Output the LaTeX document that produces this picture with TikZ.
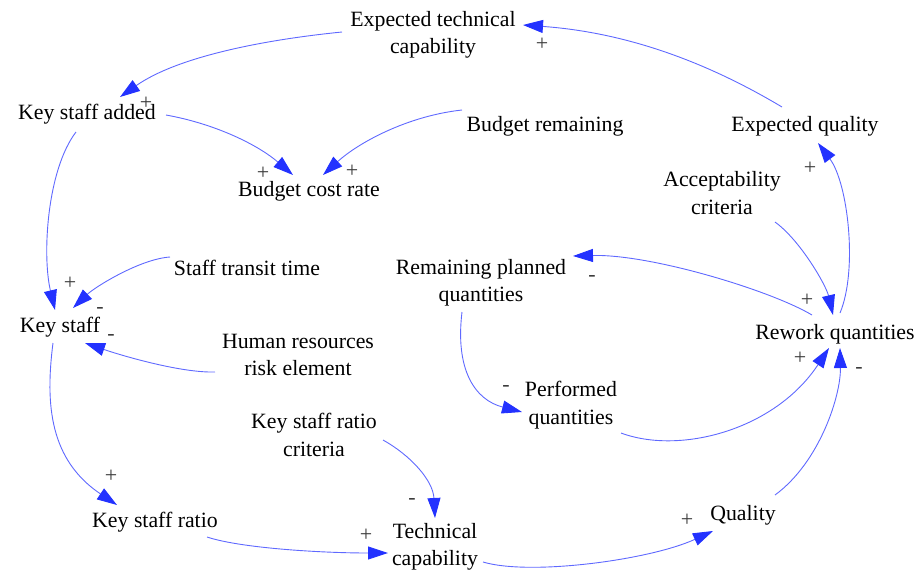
\documentclass[tikz,border=0pt]{standalone}
\usepackage{fontspec}
\setmainfont{Liberation Serif}
\usetikzlibrary{arrows.meta,calc}
\definecolor{linkblue}{RGB}{95,105,255}
\definecolor{tipblue}{RGB}{35,50,255}
\definecolor{signgray}{RGB}{60,60,60}
\begin{document}
\begin{tikzpicture}[x=1pt,y=-1pt,
  var/.style={inner sep=0pt, align=center, font=\fontsize{21.8}{27.5}\selectfont},
  sgn/.style={inner sep=0pt, text=signgray, font=\fontsize{22}{22}\selectfont},
  link/.style={draw=linkblue, line width=0.9pt, -{Triangle[length=20pt,width=13pt,color=tipblue]}}]
\useasboundingbox (0,0) rectangle (919,574);
% variables
\node[var] (etc) at (433,35) {Expected technical\\capability};
\node[var] (ksa) at (87,114) {Key staff added};
\node[var] (bcr) at (309,191) {Budget cost rate};
\node[var] (br) at (545,126) {Budget remaining};
\node[var] (eq) at (805,126) {Expected quality};
\node[var] (ac) at (722,193) {Acceptability\\criteria};
\node[var] (stt) at (247,268) {Staff transit time};
\node[var] (rpq) at (481,283) {Remaining planned\\quantities};
\node[var] (ks) at (60,327) {Key staff};
\node[var] (hr) at (298,355) {Human resources\\risk element};
\node[var] (rq) at (835,334) {Rework quantities};
\node[var] (pq) at (571,405) {Performed\\quantities};
\node[var] (ksrc) at (314,435) {Key staff ratio\\criteria};
\node[var] (ksr) at (155,522) {Key staff ratio};
\node[var] (tc) at (435,547) {Technical\\capability};
\node[var] (q) at (743,515) {Quality};
% links
\draw[link] ($(eq)+(-23,-19)$) .. controls ($(eq)+(-105,-68)$) and ($(etc)+(187,-3)$) .. ($(etc)+(90,-10)$);
\draw[link] ($(etc)+(-91,-3)$) .. controls ($(etc)+(-171,5)$) and ($(ksa)+(90,-57)$) .. ($(ksa)+(33,-17)$);
\draw[link] ($(ksa)+(79,1)$) .. controls ($(ksa)+(129,10)$) and ($(bcr)+(-51,-46)$) .. ($(bcr)+(-16,-16)$);
\draw[link] ($(br)+(-83,-16)$) .. controls ($(br)+(-138,-10)$) and ($(bcr)+(49,-48)$) .. ($(bcr)+(14,-16)$);
\draw[link] ($(ksa)+(-11,18)$) .. controls ($(ksa)+(-40,56)$) and ($(ks)+(-18,-72)$) .. ($(ks)+(-5,-17)$);
\draw[link] ($(stt)+(-77,-11)$) .. controls ($(stt)+(-107,-9)$) and ($(ks)+(35,-40)$) .. ($(ks)+(13,-19)$);
\draw[link] ($(hr)+(-83,17)$) .. controls ($(hr)+(-118,18)$) and ($(ks)+(60,28)$) .. ($(ks)+(25,16)$);
\draw[link] ($(ks)+(-7,16)$) .. controls ($(ks)+(-15,78)$) and ($(ksr)+(-105,-62)$) .. ($(ksr)+(-38,-17)$);
\draw[link] ($(ksr)+(52,15)$) .. controls ($(ksr)+(85,26)$) and ($(tc)+(-115,6)$) .. ($(tc)+(-47,6)$);
\draw[link] ($(ksrc)+(69,5)$) .. controls ($(ksrc)+(96,20)$) and ($(tc)+(-2,-67)$) .. ($(tc)+(0,-29)$);
\draw[link] ($(tc)+(48,15)$) .. controls ($(tc)+(95,29)$) and ($(q)+(-93,45)$) .. ($(q)+(-30,16)$);
\draw[link] ($(q)+(32,-20)$) .. controls ($(q)+(77,-53)$) and ($(rq)+(6,61)$) .. ($(rq)+(5,14)$);
\draw[link] ($(pq)+(50,28)$) .. controls ($(pq)+(109,50)$) and ($(rq)+(-60,96)$) .. ($(rq)+(-6,14)$);
\draw[link] ($(rpq)+(-19,29)$) .. controls ($(rpq)+(-26,87)$) and ($(pq)+(-96,-5)$) .. ($(pq)+(-49,7)$);
\draw[link] ($(rq)+(-23,-19)$) .. controls ($(rq)+(-65,-44)$) and ($(rpq)+(169,-29)$) .. ($(rpq)+(92,-27)$);
\draw[link] ($(ac)+(53,29)$) .. controls ($(ac)+(78,47)$) and ($(rq)+(-9,-49)$) .. ($(rq)+(-2,-19)$);
\draw[link] ($(rq)+(5,-21)$) .. controls ($(rq)+(23,-64)$) and ($(eq)+(43,57)$) .. ($(eq)+(13,17)$);
% polarity signs
\node[sgn] (s1) at (542,44) {+};
\node[sgn] (s2) at (146,103) {+};
\node[sgn] (s3) at (263,173) {+};
\node[sgn] (s4) at (352,171) {+};
\node[sgn] (s5) at (70,283) {+};
\node[sgn] (s6) at (100,310) {-};
\node[sgn] (s7) at (111,337) {-};
\node[sgn] (s8) at (111,476) {+};
\node[sgn] (s9) at (366,535) {+};
\node[sgn] (s10) at (412,501) {-};
\node[sgn] (s11) at (687,520) {+};
\node[sgn] (s12) at (859,370) {-};
\node[sgn] (s13) at (800,358) {+};
\node[sgn] (s14) at (506,388) {-};
\node[sgn] (s15) at (592,278) {-};
\node[sgn] (s16) at (807,300) {+};
\node[sgn] (s17) at (810,168) {+};
\end{tikzpicture}
\end{document}
